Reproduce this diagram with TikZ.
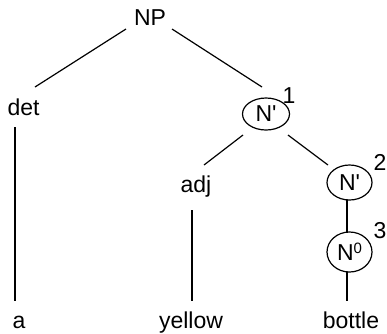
\documentclass[tikz,border=0pt]{standalone}
\usepackage{fontspec}
\usetikzlibrary{shapes.geometric}
\newfontfamily\arial{Liberation Sans}
\begin{document}
\begin{tikzpicture}[x=1pt,y=-1pt,
  every node/.style={font=\arial\fontsize{23}{27}\selectfont, inner sep=0pt},
  word/.style={anchor=base},
  idx/.style={anchor=base},
  bar/.style={draw, ellipse, inner sep=0pt, line width=1.2pt},
  edge/.style={draw, line width=1.2pt}]
\useasboundingbox (0,0) rectangle (387,333);
% word nodes
\node[word] (NP) at (150,25) {NP};
\node[word] (det) at (23.5,115) {det};
\node[word] (adj) at (196,192) {adj};
\node[word] (a) at (19,328) {a};
\node[word] (yellow) at (191,328) {yellow};
\node[word] (bottle) at (351,328) {bottle};
% bar nodes
\node[bar, minimum width=47pt, minimum height=32pt] (N1) at (266,114) {N\char39};
\node[idx] (i1) at (289,103) {1};
\node[bar, minimum width=45pt, minimum height=35pt] (N2) at (349.5,182.5) {N\char39};
\node[idx] (i2) at (380,170) {2};
\node[bar, minimum width=45pt, minimum height=40pt] (N0) at (349.5,252) {N\raisebox{7pt}{\fontsize{15}{17}\selectfont 0}};
\node[idx] (i3) at (380,238) {3};
% connector ends
\coordinate (NPl) at (126,29);
\coordinate (NPr) at (172,29);
\coordinate (dett) at (35,87);
\coordinate (detb) at (15,127);
\coordinate (at) at (15,301);
\coordinate (N1t) at (262,87);
\coordinate (N1l) at (243,135);
\coordinate (N1r) at (288,135);
\coordinate (adjt) at (204,165);
\coordinate (adjb) at (192,210);
\coordinate (yellowt) at (192,301);
\coordinate (N2t) at (328,165);
\coordinate (N2b) at (347,200);
\coordinate (N0t) at (347,232);
\coordinate (N0b) at (347,272);
\coordinate (bottlet) at (347,301);
% connectors
\draw[edge] (NPl) -- (dett);
\draw[edge] (NPr) -- (N1t);
\draw[edge] (detb) -- (at);
\draw[edge] (N1l) -- (adjt);
\draw[edge] (N1r) -- (N2t);
\draw[edge] (adjb) -- (yellowt);
\draw[edge] (N2b) -- (N0t);
\draw[edge] (N0b) -- (bottlet);
\end{tikzpicture}
\end{document}
